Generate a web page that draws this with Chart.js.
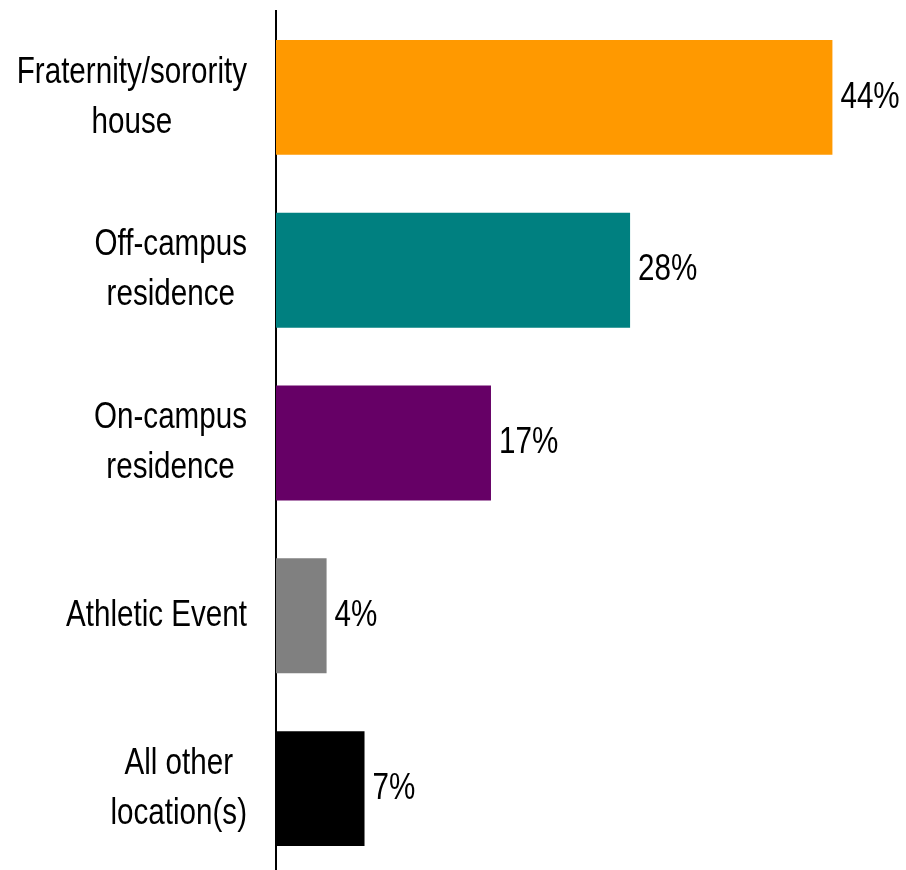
<!DOCTYPE html>
<html>
<head>
<meta charset="utf-8">
<script src="https://cdn.jsdelivr.net/npm/chart.js@4/dist/chart.umd.min.js"></script>
<style>
  html, body { margin: 0; padding: 0; background: #fff; overflow: hidden; }
  canvas { display: block; }
</style>
</head>
<body>
<canvas id="location-chart" width="906" height="880"></canvas>
<script>
// categories (each entry is the lines of one label)
const locations = [
    ['Fraternity/sorority', 'house'],
    ['Off-campus', 'residence'],
    ['On-campus', 'residence'],
    ['Athletic Event'],
    ['All other', 'location(s)']
];
const percents = [44, 28, 17, 4, 7];
const barColors = ['#FF9900', '#008080', '#660066', '#808080', '#000000'];

const FONT = '37px "Liberation Sans", Arial, sans-serif';
const NARROW = 0.8; // horizontal squeeze to get a condensed look

// draws text squeezed horizontally, anchored at (x, y)
const narrowText = (ctx, text, x, y) => {
    ctx.save();
    ctx.translate(x, y);
    ctx.scale(NARROW, 1);
    ctx.fillText(text, 0, 0);
    ctx.restore();
};

// category labels: lines centred on each other, block right-aligned next to the axis
const categoryLabels = {
    id: 'categoryLabels',
    afterDraw(chart) {
        const ctx = chart.ctx;
        const y = chart.scales.y;
        const right = chart.chartArea.left - 29;
        const lineH = 50;
        ctx.save();
        ctx.font = FONT;
        ctx.fillStyle = '#000';
        ctx.textAlign = 'center';
        ctx.textBaseline = 'middle';
        locations.forEach((lines, i) => {
            const blockW = Math.max(...lines.map(l => ctx.measureText(l).width)) * NARROW;
            const cx = right - blockW / 2;
            const cy = y.getPixelForValue(i);
            lines.forEach((line, j) => {
                narrowText(ctx, line, cx, cy + (j - (lines.length - 1) / 2) * lineH);
            });
        });
        ctx.restore();
    }
};

// percentage next to the end of each bar
const valueLabels = {
    id: 'valueLabels',
    afterDatasetsDraw(chart) {
        const ctx = chart.ctx;
        const meta = chart.getDatasetMeta(0);
        ctx.save();
        ctx.font = FONT;
        ctx.fillStyle = '#000';
        ctx.textAlign = 'left';
        ctx.textBaseline = 'middle';
        meta.data.forEach((bar, i) => {
            narrowText(ctx, percents[i] + '%', bar.x + 8, bar.y);
        });
        ctx.restore();
    }
};

new Chart(document.getElementById('location-chart').getContext('2d'), {
    type: 'bar',
    data: {
        labels: locations.map(l => l.join(' ')),
        datasets: [{
            data: percents,
            backgroundColor: barColors,
            borderWidth: 0,
            categoryPercentage: 1,
            barPercentage: 0.665
        }]
    },
    options: {
        indexAxis: 'y',
        responsive: false,
        animation: false,
        layout: { padding: { top: 11, bottom: 5, left: 0, right: 23 } },
        plugins: {
            legend: { display: false },
            tooltip: { enabled: false }
        },
        scales: {
            x: {
                display: false,
                min: 0,
                max: 48
            },
            y: {
                grid: { display: false, drawTicks: false },
                ticks: { display: false },
                border: { display: true, color: '#000', width: 2 },
                afterFit(scale) { scale.width = 276; }
            }
        }
    },
    plugins: [categoryLabels, valueLabels]
});
</script>
</body>
</html>
